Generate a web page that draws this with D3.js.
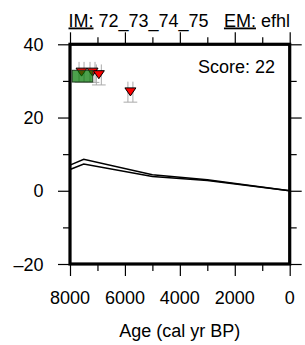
<!DOCTYPE html>
<html>
<head>
<meta charset="utf-8">
<script src="https://cdn.jsdelivr.net/npm/d3@7"></script>
<style>
  body { margin: 0; background: #fff; }
  svg { display: block; }
  text { font-family: "Liberation Sans", Arial, sans-serif; fill: #000; }
</style>
</head>
<body>
<div id="chart"></div>
<script>
// model curves (age in cal yr BP, relative sea level in m)
const curveAges = [8000, 7500, 5000, 3000, 0]
const curveUpper = [7.0, 8.6, 4.4, 3.0, 0]
const curveLower = [5.8, 7.3, 3.9, 2.8, 0]

// observations (inverted triangles)
const obsAges = [7580, 7180, 6950, 5800]
const obsLevels = [32.4, 32.4, 31.7, 27.0]
const obsAgeErr = [250, 250, 250, 250]
const obsLevelErr = [2.8, 2.8, 2.8, 2.8]

// green box: [age young, age old], [level low, level high]
const boxAges = [7170, 7920]
const boxLevels = [29.7, 32.9]

const xMajorTicks = [8000, 6000, 4000, 2000, 0]
const xMinorTicks = [7000, 5000, 3000, 1000]
const yMajorTicks = [-20, 0, 20, 40]
const yMinorTicks = [-10, 10, 30]

const titleLeft = 'IM: 72_73_74_75'
const titleRight = 'EM: efhl'
const scoreLabel = 'Score: 22'
const xTitle = 'Age (cal yr BP)'

const dims = { width: 305, height: 345, left: 70, right: 289.7, top: 44.3, bottom: 264 }

const svg = d3.select('#chart').append('svg')
    .attr('width', dims.width)
    .attr('height', dims.height)

const x = d3.scaleLinear().domain([8000, 0]).range([dims.left, dims.right])
const y = d3.scaleLinear().domain([-20, 40]).range([dims.bottom, dims.top])

const fmt = d => d < 0 ? '\u2013' + Math.abs(d) : String(d)

// axes: major and minor ticks on all four sides
function tickAxis(gen, values, size, pos) {
    const g = svg.append('g')
        .attr('transform', pos)
        .call(gen.tickValues(values).tickSize(size).tickFormat(''))
    g.select('.domain').remove()
    g.selectAll('line').attr('stroke', '#000').attr('stroke-width', 1.2)
    return g
}
tickAxis(d3.axisLeft(y), yMajorTicks, 12, `translate(${dims.left},0)`)
tickAxis(d3.axisLeft(y), yMinorTicks, 7, `translate(${dims.left},0)`)
tickAxis(d3.axisRight(y), yMajorTicks, 12, `translate(${dims.right},0)`)
tickAxis(d3.axisRight(y), yMinorTicks, 7, `translate(${dims.right},0)`)
tickAxis(d3.axisBottom(x), xMajorTicks, 12, `translate(0,${dims.bottom})`)
tickAxis(d3.axisBottom(x), xMinorTicks, 7, `translate(0,${dims.bottom})`)
tickAxis(d3.axisTop(x), xMajorTicks, 12, `translate(0,${dims.top})`)
tickAxis(d3.axisTop(x), xMinorTicks, 7, `translate(0,${dims.top})`)

// tick labels
svg.append('g').selectAll('text')
    .data(yMajorTicks)
    .join('text')
    .attr('x', 43.5)
    .attr('y', d => y(d) + 6.5)
    .attr('text-anchor', 'end')
    .attr('font-size', 18)
    .text(fmt)

svg.append('g').selectAll('text')
    .data(xMajorTicks)
    .join('text')
    .attr('x', d => x(d))
    .attr('y', 304)
    .attr('text-anchor', 'middle')
    .attr('font-size', 18)
    .text(fmt)

svg.append('text')
    .attr('x', (dims.left + dims.right) / 2)
    .attr('y', 337)
    .attr('text-anchor', 'middle')
    .attr('font-size', 18)
    .text(xTitle)

// titles with underlined keys
function keyTitle(str, xPos, anchor) {
    const [key, rest] = str.split(': ')
    const t = svg.append('text')
        .attr('x', xPos)
        .attr('y', 26.5)
        .attr('text-anchor', anchor)
        .attr('font-size', 18)
    t.append('tspan').style('text-decoration', 'underline').text(key + ':')
    t.append('tspan').text(' ' + rest)
}
keyTitle(titleLeft, 68.5, 'start')
keyTitle(titleRight, 290, 'end')

// model curves
const line = d3.line()
    .x((d, i) => x(curveAges[i]))
    .y(d => y(d))
;[curveUpper, curveLower].forEach(c => {
    svg.append('path')
        .attr('d', line(c))
        .attr('fill', 'none')
        .attr('stroke', '#000')
        .attr('stroke-width', 1.5)
})

// observation error bars
const obs = obsAges.map((a, i) => ({ age: a, lvl: obsLevels[i], ea: obsAgeErr[i], el: obsLevelErr[i] }))
const errG = svg.append('g').attr('stroke', '#aaa').attr('stroke-width', 1)
obs.forEach(d => {
    ;[-2.5, 2.5].forEach(off => {
        errG.append('line')
            .attr('x1', x(d.age) + off).attr('x2', x(d.age) + off)
            .attr('y1', y(d.lvl + d.el)).attr('y2', y(d.lvl - d.el))
    })
    errG.append('line')
        .attr('x1', x(d.age + d.ea)).attr('x2', x(d.age - d.ea))
        .attr('y1', y(d.lvl - d.el)).attr('y2', y(d.lvl - d.el))
})

// triangles
svg.append('g').selectAll('path')
    .data(obs)
    .join('path')
    .attr('transform', d => `translate(${x(d.age)},${y(d.lvl)})`)
    .attr('d', 'M-5.5,-4L5.5,-4L0,4Z')
    .attr('fill', '#f00')
    .attr('stroke', '#000')
    .attr('stroke-width', 1)

// green box drawn over markers
svg.append('rect')
    .attr('x', x(boxAges[1]))
    .attr('y', y(boxLevels[1]))
    .attr('width', x(boxAges[0]) - x(boxAges[1]))
    .attr('height', y(boxLevels[0]) - y(boxLevels[1]))
    .attr('fill', 'rgba(0,120,0,0.7)')
    .attr('stroke', '#1e3d1e')
    .attr('stroke-width', 1)

// score
svg.append('text')
    .attr('x', 275)
    .attr('y', 73)
    .attr('text-anchor', 'end')
    .attr('font-size', 18)
    .text(scoreLabel)

// frame
svg.append('rect')
    .attr('x', dims.left)
    .attr('y', dims.top)
    .attr('width', dims.right - dims.left)
    .attr('height', dims.bottom - dims.top)
    .attr('fill', 'none')
    .attr('stroke', '#000')
    .attr('stroke-width', 3.2)
</script>
</body>
</html>
